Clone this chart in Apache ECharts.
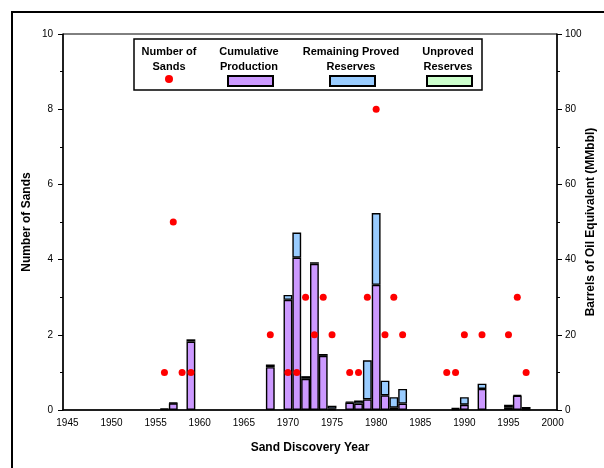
<!DOCTYPE html>
<html>
<head>
<meta charset="utf-8">
<script src="https://cdn.jsdelivr.net/npm/echarts@6/dist/echarts.min.js"></script>
<style>
  html, body { margin: 0; padding: 0; background: #fff; }
  #chart { width: 604px; height: 468px; }
</style>
</head>
<body>
<div id="chart"></div>
<script>
// discovery years 1945..2000, one category per year
var firstYear = 1945, lastYear = 2000;
var years = [];
for (var y = firstYear; y <= lastYear; y++) years.push(String(y));

// MMbbl per discovery year
var cumulativeProduction = [
  0, 0, 0, 0, 0, 0, 0, 0, 0, 0,              // 1945-1954
  0, 0.2, 1.8, 0, 18.2, 0, 0, 0, 0, 0,       // 1955-1964
  0, 0, 0, 11.4, 0, 29.3, 40.5, 8.3, 38.9, 14.4, // 1965-1974
  0.3, 0, 2.0, 1.7, 2.8, 33.3, 3.9, 0.6, 1.7, 0, // 1975-1984
  0, 0, 0, 0, 0.3, 1.4, 0, 5.6, 0, 0,        // 1985-1994
  0.6, 3.8, 0.2, 0, 0, 0                     // 1995-2000
];
var remainingProved = [
  0, 0, 0, 0, 0, 0, 0, 0, 0, 0,
  0, 0.1, 0.1, 0, 0.6, 0, 0, 0, 0, 0,
  0, 0, 0, 0.7, 0, 1.3, 6.7, 0.7, 0.4, 0.5,
  0.8, 0, 0.2, 0.8, 10.4, 19.1, 3.9, 2.8, 3.9, 0,
  0, 0, 0, 0, 0.2, 2.0, 0, 1.4, 0, 0,
  0.8, 0.2, 0.6, 0, 0, 0
];
var unprovedReserves = [
  0, 0, 0, 0, 0, 0, 0, 0, 0, 0,
  0, 0, 0, 0, 0, 0, 0, 0, 0, 0,
  0, 0, 0, 0, 0, 0, 0, 0, 0, 0,
  0, 0, 0, 0, 0, 0, 0, 0, 0, 0,
  0, 0, 0, 0, 0, 0, 0, 0, 0, 0,
  0, 0, 0, 0, 0, 0
];
// number of sands discovered per year
var numberOfSands = [
  0, 0, 0, 0, 0, 0, 0, 0, 0, 0,
  0, 1, 5, 1, 1, 0, 0, 0, 0, 0,
  0, 0, 0, 2, 0, 1, 1, 3, 2, 3,
  2, 0, 1, 1, 3, 8, 2, 3, 2, 0,
  0, 0, 0, 1, 1, 2, 0, 2, 0, 0,
  2, 3, 1, 0, 0, 0
];

var FONT = 'Liberation Sans, Arial, sans-serif';

function blankZero(arr) {
  return arr.map(function (v) { return v === 0 ? '-' : v; });
}

var chart = echarts.init(document.getElementById('chart'));

var barStyle = function (color) {
  return { color: color, borderColor: '#000', borderWidth: 1.4 };
};

// icon-only legends, the captions sit above them as graphic text
function iconLegend(name, left, top, w, h, icon) {
  return {
    data: [name],
    left: left,
    top: top,
    z: 200,
    padding: 0,
    itemWidth: w,
    itemHeight: h,
    icon: icon,
    selectedMode: false,
    formatter: function () { return ''; },
    textStyle: { fontSize: 1 }
  };
}

function legendText(x, lines) {
  return {
    type: 'text',
    x: x,
    y: 44,
    z: 150,
    style: {
      text: lines,
      textAlign: 'center',
      textVerticalAlign: 'top',
      font: 'bold 11px ' + FONT,
      lineHeight: 15,
      fill: '#000'
    }
  };
}

var axisName = { fontSize: 12, fontWeight: 'bold', color: '#000' };

var option = {
  backgroundColor: '#fff',
  animation: false,
  textStyle: { fontFamily: FONT },
  grid: {
    left: 63, right: 47, top: 34, bottom: 58,
    outerBoundsMode: 'none',
    containLabel: false,
    show: true, borderColor: '#000', borderWidth: 1, backgroundColor: 'transparent'
  },
  legend: [
    iconLegend('Number of Sands', 165, 75, 8, 8, 'circle'),
    iconLegend('Cumulative Production', 227, 75, 45, 10, 'rect'),
    iconLegend('Remaining Proved Reserves', 329, 75, 45, 10, 'rect'),
    iconLegend('Unproved Reserves', 426, 75, 45, 10, 'rect')
  ],
  graphic: [
    {
      type: 'rect', z: 90,
      shape: { x: 12, y: 12, width: 640, height: 500 },
      style: { fill: 'none', stroke: '#000', lineWidth: 2 }
    },
    {
      type: 'rect', z: 90,
      shape: { x: 134, y: 39, width: 348, height: 51 },
      style: { fill: '#fff', stroke: '#000', lineWidth: 1.5 }
    },
    legendText(169, 'Number of\nSands'),
    legendText(249, 'Cumulative\nProduction'),
    legendText(351, 'Remaining Proved\nReserves'),
    legendText(448, 'Unproved\nReserves')
  ],
  xAxis: [
    {
      type: 'category',
      data: years,
      boundaryGap: true,
      name: 'Sand Discovery Year',
      nameLocation: 'middle',
      nameGap: 32,
      nameMoveOverlap: false,
      nameTextStyle: axisName,
      axisLine: { lineStyle: { color: '#000', width: 1.5 } },
      axisTick: { interval: 0, length: 4, lineStyle: { color: '#000' } },
      axisLabel: { interval: 4, fontSize: 10, color: '#000', margin: 8 },
      splitLine: { show: false }
    },
    {
      // same year scale again, only for the upper half of the crossing ticks
      type: 'category',
      data: years,
      position: 'bottom',
      boundaryGap: true,
      axisLine: { show: false },
      axisTick: { interval: 0, inside: true, length: 3, lineStyle: { color: '#000' } },
      axisLabel: { show: false },
      splitLine: { show: false }
    }
  ],
  yAxis: [
    {
      type: 'value',
      min: 0, max: 10, interval: 2,
      name: 'Number of Sands',
      nameLocation: 'middle',
      nameRotate: 90,
      nameGap: 30,
      nameMoveOverlap: false,
      nameTextStyle: axisName,
      axisLine: { show: true, lineStyle: { color: '#000', width: 1.5 } },
      axisTick: { show: true, length: 5, lineStyle: { color: '#000' } },
      minorTick: { show: true, splitNumber: 2, length: 3, lineStyle: { color: '#000' } },
      axisLabel: { fontSize: 10, color: '#000', margin: 10 },
      splitLine: { show: false }
    },
    {
      type: 'value',
      min: 0, max: 100, interval: 20,
      position: 'right',
      name: 'Barrels of Oil Equivalent (MMbbl)',
      nameLocation: 'middle',
      nameRotate: 90,
      nameGap: 28,
      nameMoveOverlap: false,
      nameTextStyle: axisName,
      axisLine: { show: true, lineStyle: { color: '#000', width: 1.5 } },
      axisTick: { show: true, length: 5, lineStyle: { color: '#000' } },
      minorTick: { show: true, splitNumber: 2, length: 3, lineStyle: { color: '#000' } },
      axisLabel: { fontSize: 10, color: '#000', margin: 8 },
      splitLine: { show: false }
    }
  ],
  series: [
    {
      name: 'Cumulative Production',
      type: 'bar',
      yAxisIndex: 1,
      stack: 'boe',
      barWidth: '100%',
      barCategoryGap: 0,
      itemStyle: barStyle('#CC99FF'),
      data: blankZero(cumulativeProduction)
    },
    {
      name: 'Remaining Proved Reserves',
      type: 'bar',
      yAxisIndex: 1,
      stack: 'boe',
      barWidth: '100%',
      itemStyle: barStyle('#99CCFF'),
      data: blankZero(remainingProved)
    },
    {
      name: 'Unproved Reserves',
      type: 'bar',
      yAxisIndex: 1,
      stack: 'boe',
      barWidth: '100%',
      itemStyle: barStyle('#CCFFCC'),
      data: blankZero(unprovedReserves)
    },
    {
      name: 'Number of Sands',
      type: 'scatter',
      yAxisIndex: 0,
      symbol: 'circle',
      symbolSize: 7,
      z: 10,
      itemStyle: { color: '#FF0000', opacity: 1 },
      data: blankZero(numberOfSands)
    }
  ]
};

chart.setOption(option);
window.onresize = chart.resize;
</script>
</body>
</html>
